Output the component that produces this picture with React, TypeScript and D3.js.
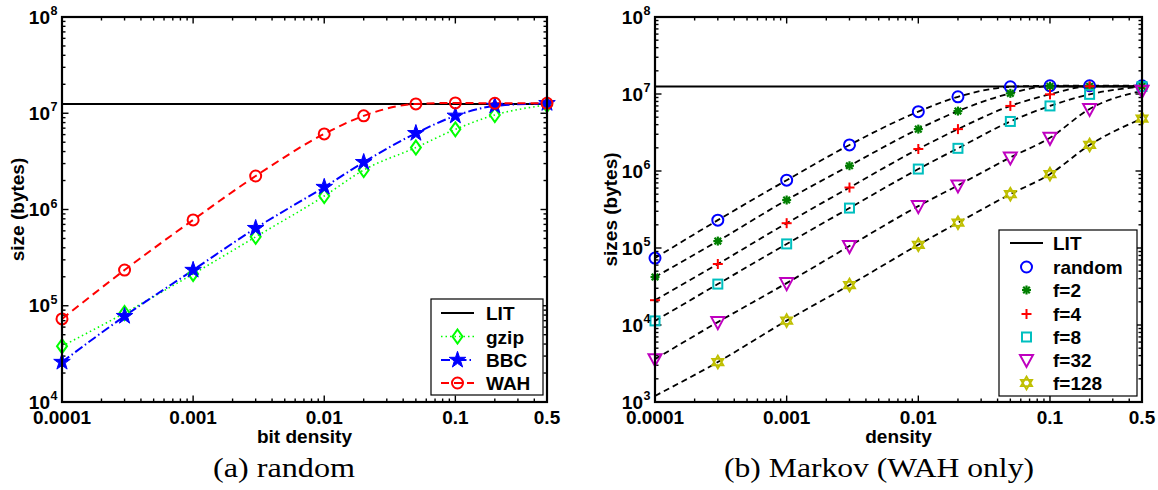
import React from "react";
import * as d3 from "d3";

// sampled bit densities (same for both panels)
const densities = [0.0001, 0.0003, 0.001, 0.003, 0.01, 0.02, 0.05, 0.1, 0.2, 0.5];
const litSize = 1.25e7;

// (a) random
const gzipSizes = [3.8e4, 8.4e4, 2.14e5, 5.2e5, 1.38e6, 2.57e6, 4.4e6, 6.8e6, 9.6e6, 1.22e7];
const bbcSizes = [2.6e4, 7.8e4, 2.35e5, 6.4e5, 1.71e6, 3.1e6, 6.2e6, 9.4e6, 1.19e7, 1.27e7];
const wahSizes = [7.3e4, 2.35e5, 7.8e5, 2.23e6, 6.1e6, 9.4e6, 1.25e7, 1.28e7, 1.27e7, 1.27e7];

// (b) Markov, WAH only
const markovNames = ["random", "f=2", "f=4", "f=8", "f=32", "f=128"];
const randomSizes = [7.4e4, 2.3e5, 7.6e5, 2.18e6, 5.9e6, 9.2e6, 1.24e7, 1.28e7, 1.28e7, 1.28e7];
const f2Sizes = [4.2e4, 1.23e5, 4.2e5, 1.17e6, 3.5e6, 6.0e6, 1.02e7, 1.26e7, 1.26e7, 1.26e7];
const f4Sizes = [2.1e4, 6.2e4, 2.1e5, 6.1e5, 1.93e6, 3.5e6, 7.0e6, 9.9e6, 1.26e7, 1.26e7];
const f8Sizes = [1.13e4, 3.4e4, 1.13e5, 3.3e5, 1.06e6, 1.97e6, 4.4e6, 7.0e6, 9.9e6, 1.25e7];
const f32Sizes = [3.6e3, 1.09e4, 3.5e4, 1.06e5, 3.5e5, 6.5e5, 1.5e6, 2.7e6, 6.4e6, 1.1e7];
// first f=128 value only shapes the dashed curve, no marker was drawn there
const f128Sizes = [1.2e3, 3.3e3, 1.14e4, 3.3e4, 1.1e5, 2.13e5, 5.0e5, 9.1e5, 2.18e6, 4.8e6];
const f128Measured = [false, true, true, true, true, true, true, true, true, true];

const xTickValues = [0.0001, 0.001, 0.01, 0.1, 0.5];
const xTickLabels = ["0.0001", "0.001", "0.01", "0.1", "0.5"];

const SANS = "'Liberation Sans', Arial, Helvetica, sans-serif";
const SERIF = "'Liberation Serif', 'Times New Roman', serif";
const TOP = 17;
const BOTTOM = 402;

type MarkerKind = "circle" | "diamond" | "star" | "asterisk" | "plus" | "square" | "tri" | "hex";

function Marker({ kind, color, cx, cy }: { kind: MarkerKind; color: string; cx: number; cy: number }) {
  const t = `translate(${cx},${cy})`;
  const common = { stroke: color, strokeWidth: 2, fill: "none" };
  switch (kind) {
    case "circle":
      return <circle cx={cx} cy={cy} r={5.5} {...common} />;
    case "diamond":
      return <path transform={t} d="M0,-7L5,0L0,7L-5,0Z" {...common} />;
    case "star":
      return <path transform={t} d={d3.symbol(d3.symbolStar, 85)() || ""} fill={color} stroke={color} strokeWidth={1} />;
    case "asterisk":
      return (
        <g transform={t} stroke={color} strokeWidth={2.2}>
          <line x1={-4.5} y1={0} x2={4.5} y2={0} />
          <line x1={0} y1={-4.5} x2={0} y2={4.5} />
          <line x1={-3.3} y1={-3.3} x2={3.3} y2={3.3} />
          <line x1={-3.3} y1={3.3} x2={3.3} y2={-3.3} />
        </g>
      );
    case "plus":
      return (
        <g transform={t} stroke={color} strokeWidth={2}>
          <line x1={-5} y1={0} x2={5} y2={0} />
          <line x1={0} y1={-5} x2={0} y2={5} />
        </g>
      );
    case "square":
      return <rect x={cx - 4.5} y={cy - 4.5} width={9} height={9} {...common} />;
    case "tri":
      return <path transform={t} d="M-6.5,-5L6.5,-5L0,7Z" {...common} />;
    case "hex":
      return <path transform={t} d="M0,-6.5L5.6,3.2L-5.6,3.2Z M0,6.5L5.6,-3.2L-5.6,-3.2Z" {...common} strokeWidth={1.8} />;
  }
  return null;
}

function minorTicks(lo: number, hi: number) {
  const out: number[] = [];
  for (let e = Math.floor(Math.log10(lo)); e < Math.ceil(Math.log10(hi)); e++) {
    for (let k = 1; k <= 9; k++) {
      const v = k * Math.pow(10, e);
      if (v >= lo * 0.999 && v <= hi * 1.001) out.push(v);
    }
  }
  return out;
}

type Series = {
  name: string;
  values: number[];
  color: string;
  lineColor: string;
  dash: string;
  width: number;
  marker: MarkerKind;
  show?: boolean[];
};

function Panel(props: {
  id: string;
  left: number;
  right: number;
  yMin: number;
  yLabel: string;
  yLabelX: number;
  xLabel: string;
  series: Series[];
  legend: { x: number; y: number; w: number; h: number; rows: number[]; sampleX: [number, number]; textX: number; lines: boolean };
}) {
  const { id, left, right, yMin, series, legend } = props;
  const x = d3.scaleLog().domain([0.0001, 0.5]).range([left, right]);
  const y = d3.scaleLog().domain([yMin, 1e8]).range([BOTTOM, TOP]);
  const line = d3
    .line<number>()
    .x((_, i) => x(densities[i]))
    .y((d) => y(d))
    .curve(d3.curveMonotoneX);

  const yMajors = d3.range(Math.log10(yMin), 9).map((e) => Math.pow(10, e));
  const yMinors = minorTicks(yMin, 1e8).filter((v) => !yMajors.includes(v));
  const xMinors = minorTicks(0.0001, 0.5).filter((v) => !xTickValues.some((t) => Math.abs(t - v) < 1e-9));

  const midX = (left + right) / 2;
  const midY = (TOP + BOTTOM) / 2;

  return (
    <g>
      <defs>
        <clipPath id={id}>
          <rect x={left} y={TOP} width={right - left} height={BOTTOM - TOP} />
        </clipPath>
      </defs>
      <rect x={left} y={TOP} width={right - left} height={BOTTOM - TOP} fill="#fff" />

      {/* ticks on all four sides, pointing inward */}
      <g stroke="#000" strokeWidth={1.4}>
        {xMinors.map((v) => (
          <g key={"xm" + v}>
            <line x1={x(v)} x2={x(v)} y1={BOTTOM} y2={BOTTOM - 3.5} />
            <line x1={x(v)} x2={x(v)} y1={TOP} y2={TOP + 3.5} />
          </g>
        ))}
        {xTickValues.map((v) => (
          <g key={"xM" + v}>
            <line x1={x(v)} x2={x(v)} y1={BOTTOM} y2={BOTTOM - 6.5} />
            <line x1={x(v)} x2={x(v)} y1={TOP} y2={TOP + 6.5} />
          </g>
        ))}
        {yMinors.map((v) => (
          <g key={"ym" + v}>
            <line x1={left} x2={left + 3.5} y1={y(v)} y2={y(v)} />
            <line x1={right} x2={right - 3.5} y1={y(v)} y2={y(v)} />
          </g>
        ))}
        {yMajors.map((v) => (
          <g key={"yM" + v}>
            <line x1={left} x2={left + 6.5} y1={y(v)} y2={y(v)} />
            <line x1={right} x2={right - 6.5} y1={y(v)} y2={y(v)} />
          </g>
        ))}
      </g>

      <g clipPath={`url(#${id})`}>
        <line x1={left} x2={right} y1={y(litSize)} y2={y(litSize)} stroke="#000" strokeWidth={2} />
        {series.map((s) => (
          <path
            key={s.name}
            d={line(s.values) || ""}
            fill="none"
            stroke={s.lineColor}
            strokeWidth={s.width}
            strokeDasharray={s.dash}
          />
        ))}
      </g>
      {series.map((s) => (
        <g key={s.name + "m"}>
          {s.values.map((v, i) =>
            s.show && !s.show[i] ? null : (
              <Marker key={i} kind={s.marker} color={s.color} cx={x(densities[i])} cy={y(v)} />
            )
          )}
        </g>
      ))}

      <rect x={left} y={TOP} width={right - left} height={BOTTOM - TOP} fill="none" stroke="#000" strokeWidth={2.2} />

      {/* axis labels */}
      <g fontFamily={SANS} fontWeight="bold" fill="#000">
        {xTickValues.map((v, i) => (
          <text key={v} x={x(v)} y={424} textAnchor="middle" fontSize={19}>
            {xTickLabels[i]}
          </text>
        ))}
        {yMajors.map((v) => (
          <g key={v}>
            <text x={left - 12} y={y(v) + 6.5} textAnchor="end" fontSize={19}>
              10
            </text>
            <text x={left - 11.5} y={y(v) - 2} fontSize={12.5}>
              {Math.round(Math.log10(v))}
            </text>
          </g>
        ))}
        <text x={midX} y={443} textAnchor="middle" fontSize={19}>
          {props.xLabel}
        </text>
        <text transform={`translate(${props.yLabelX},${midY}) rotate(-90)`} textAnchor="middle" fontSize={19}>
          {props.yLabel}
        </text>
      </g>

      {/* legend */}
      <g>
        <rect x={legend.x} y={legend.y} width={legend.w} height={legend.h} fill="#fff" stroke="#000" strokeWidth={1.2} />
        <line x1={legend.sampleX[0]} x2={legend.sampleX[1]} y1={legend.rows[0]} y2={legend.rows[0]} stroke="#000" strokeWidth={2} />
        <text x={legend.textX} y={legend.rows[0] + 7} fontFamily={SANS} fontWeight="bold" fontSize={19}>
          LIT
        </text>
        {series.map((s, i) => {
          const ry = legend.rows[i + 1];
          const mx = (legend.sampleX[0] + legend.sampleX[1]) / 2;
          return (
            <g key={s.name + "l"}>
              {legend.lines && (
                <line
                  x1={legend.sampleX[0]}
                  x2={legend.sampleX[1]}
                  y1={ry}
                  y2={ry}
                  stroke={s.lineColor}
                  strokeWidth={s.width}
                  strokeDasharray={s.dash}
                />
              )}
              <Marker kind={s.marker} color={s.color} cx={mx} cy={ry} />
              <text x={legend.textX} y={ry + 7} fontFamily={SANS} fontWeight="bold" fontSize={19}>
                {s.name}
              </text>
            </g>
          );
        })}
      </g>
    </g>
  );
}

export default function App() {
  const randomSeries: Series[] = [
    { name: "gzip", values: gzipSizes, color: "#00ff00", lineColor: "#00ff00", dash: "1.5,3", width: 1.6, marker: "diamond" },
    { name: "BBC", values: bbcSizes, color: "#0000ff", lineColor: "#0000ff", dash: "9,3,1.5,3", width: 2, marker: "star" },
    { name: "WAH", values: wahSizes, color: "#ff0000", lineColor: "#ff0000", dash: "8,5", width: 2, marker: "circle" },
  ];

  const markovValues = [randomSizes, f2Sizes, f4Sizes, f8Sizes, f32Sizes, f128Sizes];
  const markovColors = ["#0000ff", "#007f00", "#ff0000", "#00bfbf", "#bf00bf", "#bfbf00"];
  const markovMarkers: MarkerKind[] = ["circle", "asterisk", "plus", "square", "tri", "hex"];
  const markovSeries: Series[] = markovNames.map((name, i) => ({
    name,
    values: markovValues[i],
    color: markovColors[i],
    lineColor: "#000",
    dash: "6,4",
    width: 1.8,
    marker: markovMarkers[i],
    show: i === 5 ? f128Measured : undefined,
  }));

  return (
    <svg width={1158} height={490} style={{ position: "absolute", left: 0, top: 0, background: "#fff" }}>
      <rect width={1158} height={490} fill="#fff" />
      <Panel
        id="clipA"
        left={62}
        right={547}
        yMin={1e4}
        yLabel="size (bytes)"
        yLabelX={23.5}
        xLabel="bit density"
        series={randomSeries}
        legend={{ x: 431, y: 299, w: 112, h: 96, rows: [313, 336.5, 360, 383], sampleX: [441, 474], textX: 486, lines: true }}
      />
      <Panel
        id="clipB"
        left={655}
        right={1142}
        yMin={1e3}
        yLabel="sizes (bytes)"
        yLabelX={617}
        xLabel="density"
        series={markovSeries}
        legend={{ x: 999, y: 230, w: 138, h: 166, rows: [243, 267, 290, 314, 337, 360, 383], sampleX: [1010, 1043], textX: 1053, lines: false }}
      />
      <text x={284} y={477} textAnchor="middle" fontFamily={SERIF} fontSize={27} textLength={142} lengthAdjust="spacingAndGlyphs">
        (a) random
      </text>
      <text x={879} y={477} textAnchor="middle" fontFamily={SERIF} fontSize={27} textLength={310} lengthAdjust="spacingAndGlyphs">
        (b) Markov (WAH only)
      </text>
    </svg>
  );
}
